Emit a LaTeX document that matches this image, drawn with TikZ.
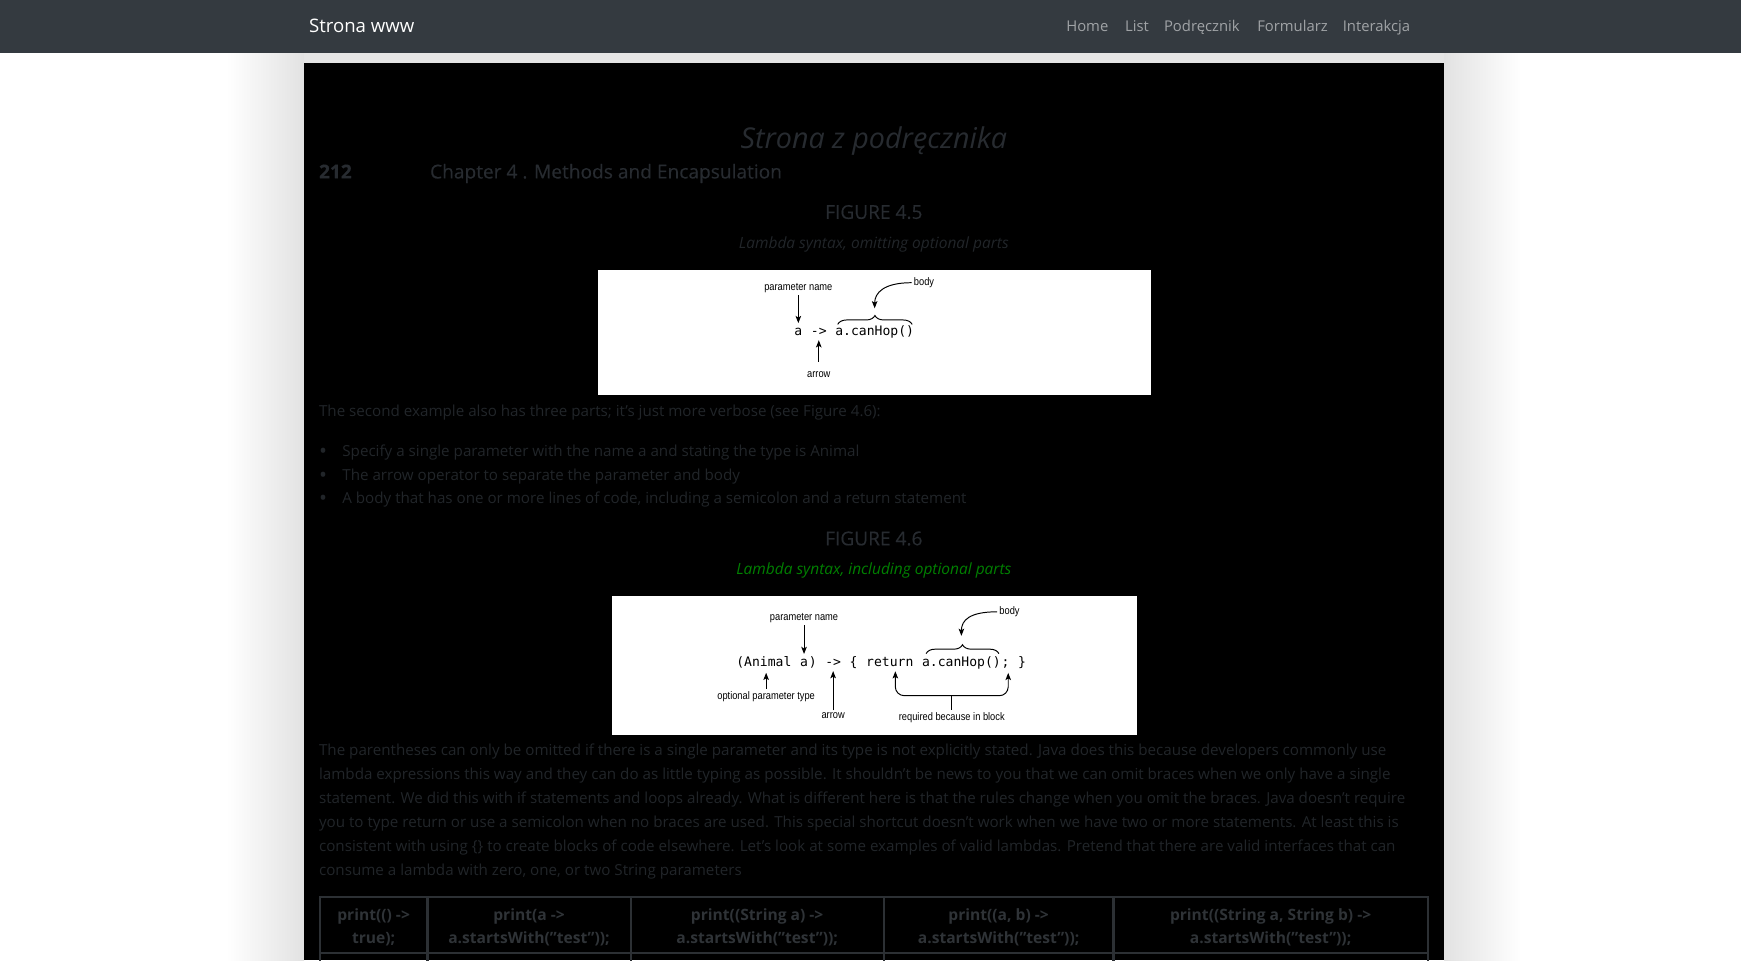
\documentclass[tikz,border=0pt]{standalone}
\usepackage{fontspec}
\setmainfont{Open Sans}
\newfontfamily\headfont[FakeBold=0.4]{Open Sans}
\newfontfamily\labfont[FakeStretch=0.85]{Liberation Sans}
\newfontfamily\codefont{DejaVu Sans Mono}
\usetikzlibrary{positioning,arrows.meta,decorations.pathreplacing,calc}
\definecolor{navgray}{HTML}{343A40}
\definecolor{navlink}{HTML}{A0A3A6}
\definecolor{pagetext}{HTML}{212529}
\definecolor{headtext}{HTML}{272B30}
\definecolor{capgreen}{HTML}{008000}
\definecolor{shadowgray}{HTML}{E2E2E2}
\definecolor{tabline}{HTML}{2C3034}
\definecolor{tabtext}{HTML}{2F3337}
\newcommand\cellstrut{\rule{0pt}{8.6pt}}
\newcommand\bul{\makebox[0.42cm][l]{\raisebox{-0.25ex}{\scalebox{1.4}{•}}}}
\tikzset{
  hd/.tip     = {Stealth[length=1.3mm,width=1mm,inset=0.3mm]},
  lbl/.style  = {font=\labfont\fontsize{5.6pt}{6.5pt}\selectfont, inner sep=1pt},
  codetxt/.style = {font=\codefont\fontsize{6.7pt}{8pt}\selectfont,
                inner xsep=0pt, inner ysep=2.3pt},
  arr/.style  = {-hd, line width=0.5pt},
  brc/.style  = {decorate, decoration={brace, amplitude=0.16cm}, line width=0.5pt},
  figbox/.style = {fill=white, inner sep=0pt, outer sep=0pt},
  bodytxt/.style = {text=pagetext, inner sep=0pt, align=left,
                font=\fontsize{7.78pt}{12.25pt}\selectfont},
  navlnk/.style = {text=navlink, inner sep=0pt, font=\fontsize{7.6pt}{9pt}\selectfont},
  headtxt/.style = {text=headtext, inner sep=0pt, font=\headfont\fontsize{9.8pt}{12pt}\selectfont},
  tabcell/.style = {draw=tabline, line width=1.1pt, outer sep=0pt,
                minimum height=0.98cm, align=center, text=tabtext,
                font=\bfseries\fontsize{8pt}{11.9pt}\selectfont}
}
\begin{document}
\begin{tikzpicture}[x=0.02cm,y=0.02cm]
  \clip (0,0) rectangle (1568,-865);
  \fill[white] (0,0) rectangle (1568,-865);
  % shadow round the page
  \shade[left color=white, right color=shadowgray] (204,-47) rectangle (274,-865);
  \shade[left color=shadowgray, right color=white] (1300.5,-47) rectangle (1370,-865);
  \fill[shadowgray!90!white] (274,-47) rectangle (1300.5,-57);
  \fill[navgray] (0,0) rectangle (1568,-47.5);
  \fill[black] (274,-56.5) rectangle (1300.5,-865);

  % navbar
  \node[anchor=mid west, inner sep=0pt, text=white,
        font=\fontsize{9.54pt}{11pt}\selectfont] (brand) at (278,-25) {Strona www};
  \node[navlnk, anchor=mid west] (home) at (960,-24) {Home};
  \node[navlnk, anchor=mid west] (list) at (1013,-24) {List};
  \node[navlnk, anchor=mid west] (book) at (1048,-24) {Podręcznik};
  \node[navlnk, anchor=mid west] (form) at (1132,-24) {Formularz};
  \node[navlnk, anchor=mid west] (inter) at (1209,-24) {Interakcja};

  % headings
  \node[headtxt, anchor=mid, font=\itshape\fontsize{14.7pt}{17pt}\selectfont] (title) at (787,-129) {Strona z podręcznika};
  \node[headtxt, anchor=mid west] (pagenr) at (287,-156) {\bfseries 212};
  \node[headtxt, anchor=mid west] (chap) at (387,-156) {Chapter 4 . Methods and Encapsulation};
  \node[headtxt] (fig45) at (787,-191) {FIGURE 4.5};
  \node[bodytxt, anchor=mid, font=\itshape\fontsize{7.93pt}{9pt}\selectfont] (cap45) at (787,-219) {Lambda syntax, omitting optional parts};

  % figure 4.5
  \node[figbox, minimum width=9.952cm, minimum height=2.26cm, anchor=north west] (fig1) at (539,-243) {};
  \node[codetxt, anchor=base] (pa1) at (719,-302) {a};
  \node[codetxt, base right=0.1418cm of pa1] (ar1) {->};
  \node[codetxt, base right=0.1418cm of ar1] (bd1) {a.canHop()};
  \node[lbl, above=0.5cm of pa1] (pn1) {parameter name};
  \node[lbl, below=0.52cm of ar1] (al1) {arrow};
  \node[lbl, anchor=west] (by1) at (821,-254.6) {body};
  \coordinate (bt1) at ([yshift=0.22cm]bd1.north);
  \draw[arr] (pn1) -- (pa1);
  \draw[arr, shorten <=0.13cm] (al1) -- (ar1);
  \draw[brc] ([xshift=0.05cm,yshift=-0.07cm]bd1.north west) -- ([xshift=-0.04cm,yshift=-0.07cm]bd1.north east);
  \draw[arr] (by1.west) .. controls +(-25,0) and +(0,14) .. (bt1);

  \node[bodytxt, anchor=north west] (para1) at (287,-364)
    {The second example also has three parts; it’s just more verbose (see Figure 4.6):};
  \node[bodytxt, anchor=north west] (items) at (287,-400)
    {\bul Specify a single parameter with the name a and stating the type is Animal\\
     \bul The arrow operator to separate the parameter and body\\
     \bul A body that has one or more lines of code, including a semicolon and a return statement};

  \node[headtxt] (fig46) at (787,-485) {FIGURE 4.6};
  \node[bodytxt, anchor=mid, text=capgreen, font=\itshape\fontsize{7.93pt}{9pt}\selectfont] (cap46) at (787,-513) {Lambda syntax, including optional parts};

  % figure 4.6
  \node[figbox, minimum width=9.456cm, minimum height=2.5cm, anchor=north west] (fig2) at (551.2,-537) {};
  \node[codetxt, anchor=base] (an2) at (688,-600) {(Animal};
  \node[codetxt, base right=0.1418cm of an2] (pa2) {a};
  \node[codetxt, base right=0pt of pa2] (rp2) {)};
  \node[codetxt, base right=0.1418cm of rp2] (ar2) {->};
  \node[codetxt, base right=0.1418cm of ar2] (lb2) {\{};
  \node[codetxt, base right=0.1418cm of lb2] (rt2) {return};
  \node[codetxt, base right=0.1418cm of rt2] (bd2) {a.canHop()};
  \node[codetxt, base right=0pt of bd2] (sc2) {;};
  \node[codetxt, base right=0.1418cm of sc2] (rb2) {\}};
  \node[lbl, above=0.52cm of pa2] (pn2) {parameter name};
  \node[lbl, below=0.29cm of an2, xshift=0.04cm] (op2) {optional parameter type};
  \node[lbl, below=0.71cm of ar2] (al2) {arrow};
  \coordinate (rqL) at ([xshift=0.1cm]rt2.south);
  \coordinate (rqR) at ([xshift=0.05cm]sc2.south);
  \coordinate (rqM) at ($(rqL)!0.5!(rqR)$);
  \coordinate (bkt) at ([yshift=-0.44cm]rqL);
  \node[lbl, below=0.68cm of rqM] (rq2) {required because in block};
  \node[lbl, anchor=west] (by2) at (898,-551) {body};
  \coordinate (bt2) at ([yshift=0.28cm]bd2.north);
  \draw[arr] (pn2) -- (pa2);
  \draw[arr] (op2.north) -- (op2.north |- an2.south);
  \draw[arr] (al2) -- (ar2);
  \draw[hd-hd, line width=0.5pt, rounded corners=0.16cm] (rqL) |- (bkt -| rqM) -| (rqR);
  \draw[line width=0.5pt] (rq2.north) -- (rq2.north |- bkt);
  \draw[brc] ([xshift=0.08cm,yshift=-0.04cm]bd2.north west) -- ([xshift=-0.04cm,yshift=-0.04cm]bd2.north east);
  \draw[arr] (by2.west) .. controls +(-25,0) and +(0,14) .. (bt2);

  \node[bodytxt, anchor=north west] (para2) at (287,-670)
    {The parentheses can only be omitted if there is a single parameter and its type is not explicitly stated. Java does this because developers commonly use\\
     lambda expressions this way and they can do as little typing as possible. It shouldn’t be news to you that we can omit braces when we only have a single\\
     statement. We did this with if statements and loops already. What is different here is that the rules change when you omit the braces. Java doesn’t require\\
     you to type return or use a semicolon when no braces are used. This special shortcut doesn’t work when we have two or more statements. At least this is\\
     consistent with using \{\} to create blocks of code elsewhere. Let’s look at some examples of valid lambdas. Pretend that there are valid interfaces that can\\
     consume a lambda with zero, one, or two String parameters};

  % table of examples
  \node[tabcell, minimum width=1.94cm, anchor=north west] (t1) at (288,-808) {\cellstrut print(() ->\\true);};
  \node[tabcell, minimum width=3.66cm, right=0pt of t1] (t2) {\cellstrut print(a ->\\a.startsWith("test"));};
  \node[tabcell, minimum width=4.56cm, right=0pt of t2] (t3) {\cellstrut print((String a) ->\\a.startsWith("test"));};
  \node[tabcell, minimum width=4.14cm, right=0pt of t3] (t4) {\cellstrut print((a, b) ->\\a.startsWith("test"));};
  \node[tabcell, minimum width=5.66cm, right=0pt of t4] (t5) {\cellstrut print((String a, String b) ->\\a.startsWith("test"));};
  \node[tabcell, minimum width=1.94cm, below=0pt of t1] (u1) {};
  \node[tabcell, minimum width=3.66cm, below=0pt of t2] (u2) {};
  \node[tabcell, minimum width=4.56cm, below=0pt of t3] (u3) {};
  \node[tabcell, minimum width=4.14cm, below=0pt of t4] (u4) {};
  \node[tabcell, minimum width=5.66cm, below=0pt of t5] (u5) {};
\end{tikzpicture}
\end{document}
